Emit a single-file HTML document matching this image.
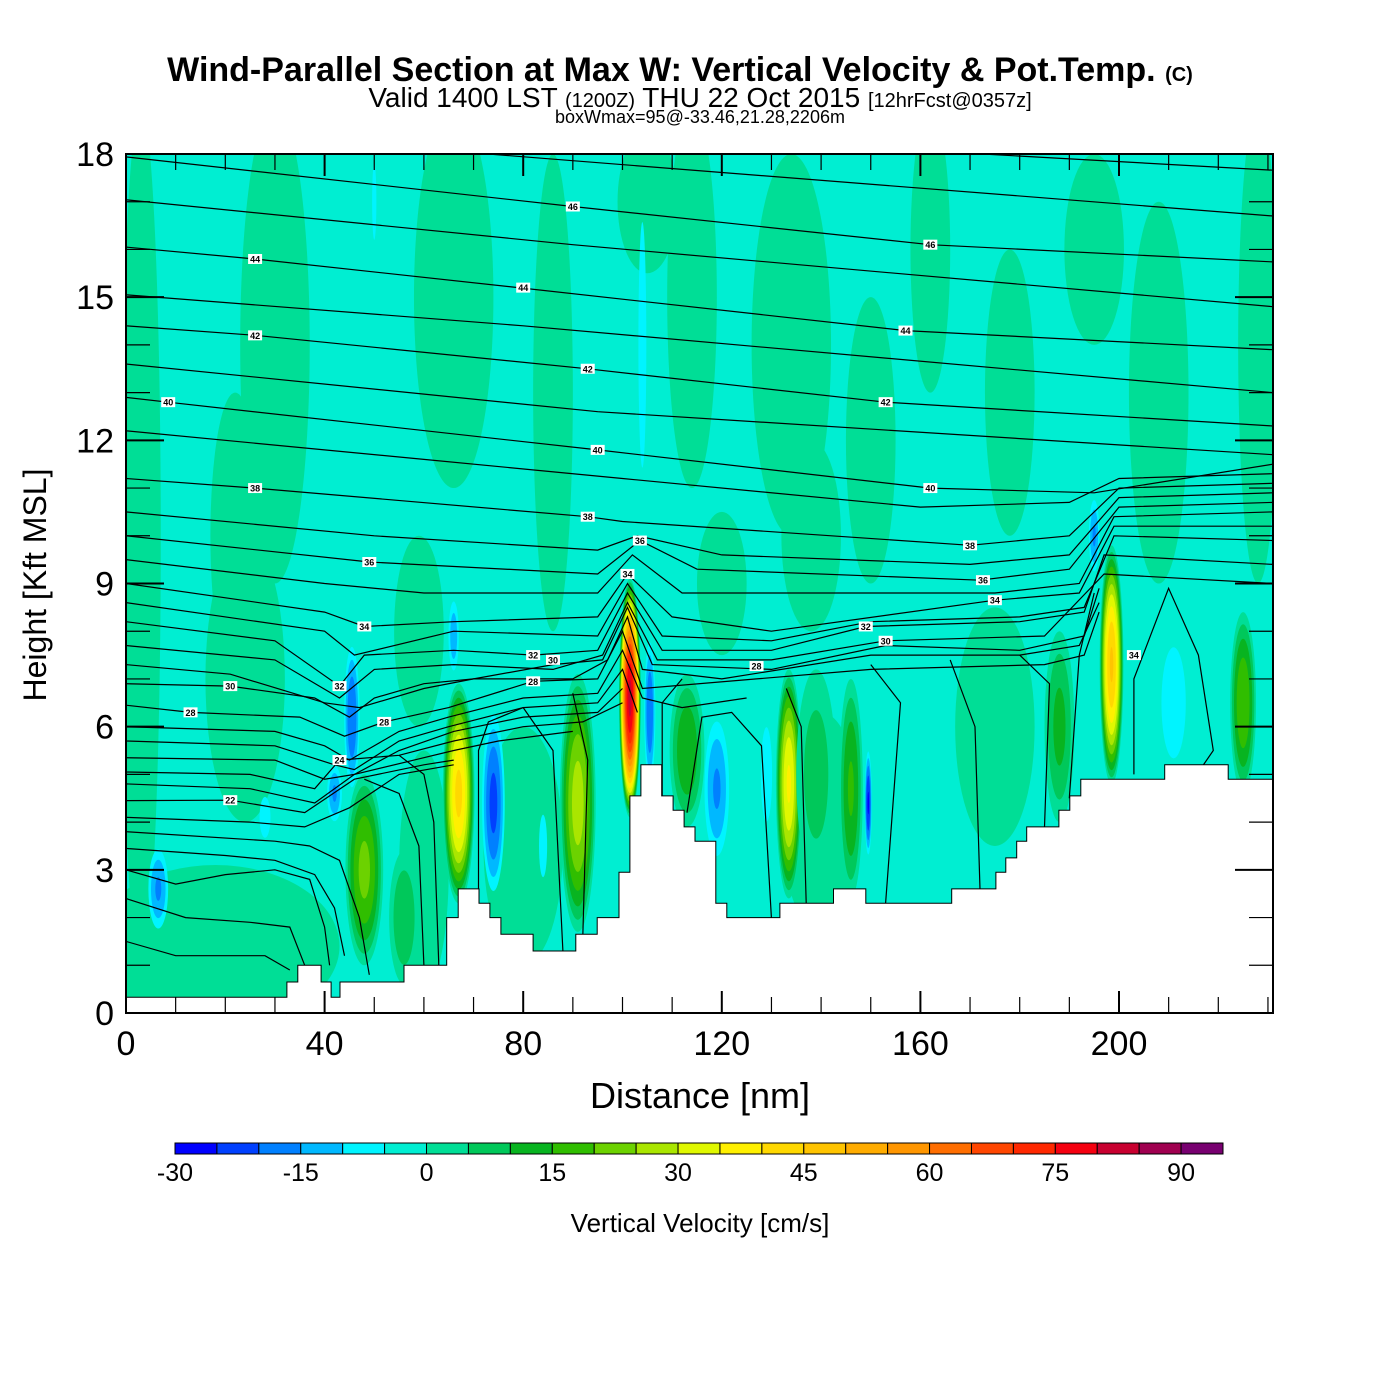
<!DOCTYPE html>
<html><head><meta charset="utf-8"><style>
html,body{margin:0;padding:0;background:#fff;}
svg{display:block;font-family:"Liberation Sans",sans-serif;}
</style></head><body>
<svg id="chart" width="1400" height="1400" viewBox="0 0 1400 1400" xmlns="http://www.w3.org/2000/svg">
<rect x="0" y="0" width="1400" height="1400" fill="#fff"/>
<text x="680" y="81" text-anchor="middle" font-size="34" font-weight="bold">Wind-Parallel Section at Max W: Vertical Velocity &amp; Pot.Temp. <tspan font-size="20">(C)</tspan></text>
<text x="700" y="107" text-anchor="middle" font-size="28">Valid 1400 LST <tspan font-size="20">(1200Z)</tspan> THU 22 Oct 2015 <tspan font-size="20">[12hrFcst@0357z]</tspan></text>
<text x="700" y="123" text-anchor="middle" font-size="18">boxWmax=95@-33.46,21.28,2206m</text>
<defs><clipPath id="plotclip"><rect x="126" y="154" width="1147" height="859"/></clipPath></defs>
<g id="plot" clip-path="url(#plotclip)"></g>
<g id="axes"></g>
<g id="cbar"></g>
<text x="700" y="1108" text-anchor="middle" font-size="36">Distance [nm]</text>
<text transform="translate(46,585) rotate(-90)" text-anchor="middle" font-size="32">Height [Kft MSL]</text>
<text x="700" y="1232" text-anchor="middle" font-size="26">Vertical Velocity [cm/s]</text>
</svg>
<script>
// ---- data ----
const xTicks = [0,40,80,120,160,200];
const yTicks = [0,3,6,9,12,15,18];
const cbarLabels = [-30,-15,0,15,30,45,60,75,90];
const cbarColors = ["#0000FF","#0040FF","#0080FF","#00B8FF","#00F4FF","#00EED2","#00DE96","#00C85A","#08B420","#30BE00","#6CD200","#AAE600","#E0F800","#FFF000","#FFD800","#FFC400","#FFAC00","#FF9600","#FF6E00","#FF4600","#FF2800","#F50010","#C80030","#A00050","#780070"];
// terrain steps: [start nm, height kft]
const terrainSteps = [[0,0.33],[32.4,0.65],[34.6,1.0],[39.3,0.65],[41.3,0.33],[43.1,0.65],[56,1.0],[64.6,2.0],[66.9,2.6],[71.1,2.3],[73.3,2.0],[75.5,1.65],[82,1.3],[90.6,1.65],[94.9,2.0],[99.3,2.95],[101.5,4.55],[103.7,5.2],[107.9,4.55],[110.2,4.25],[112.4,3.9],[114.6,3.6],[118.8,2.3],[121,2.0],[131.7,2.3],[142.5,2.6],[149,2.3],[166.3,2.6],[175.2,2.95],[177.2,3.25],[179.4,3.6],[181.4,3.9],[187.9,4.25],[190.1,4.55],[192.3,4.9],[209.2,5.2],[222,4.9],[231.5,4.9]];
// background patches and cells: [x nm, center kft, half-width nm, half-height kft, peak cm/s]
const patches = [[3,10,4,9,3],[30,14,7,5,3],[22,10,5,3,3],[66,15,8,4,3],[86,13,4,5,3],[114,15,5,4,3],[134,14,8,4,3],[150,12,5,3,3],[162,16,4,3,3],[178,13,5,3,3],[208,13,6,4,3],[228,14,4,5,3],[18,1.4,25,1.7,3],[24,7,8,3,3],[59,8,5,2,3],[120,9,5,1.5,3],[175,6,8,2.5,3],[138,10,6,2,3],[80,3.5,8,2.5,3],[140,4,8,2.3,3],[60,3,5,2.5,3],[105,17,6,1.5,3],[195,16,6,2,3]];
const cells = [[101.5,6.6,2.2,2.5,82],[67,4.6,3.2,2.3,42],[198.5,7.3,2.4,2.5,46],[91,4.4,3.6,2.7,28],[48,3.0,3.8,2.0,22],[133.5,4.8,2.6,2.4,36],[146,4.7,2.4,2.3,16],[113,5.5,3.5,1.6,15],[225,6.5,2.6,1.9,20],[139,5,4,2.2,8],[188,6,3,2,12],[56,2,3,1.4,10],
 [74,4.4,2.6,2.1,-22],[45.5,6.2,1.8,1.7,-20],[42,4.6,1.8,0.7,-16],[105.5,6.3,1.3,1.7,-20],[119,4.7,3,1.7,-16],[149.5,4.4,0.8,1.2,-26],[6.5,2.6,2.4,1.0,-16],[66,7.9,1.3,0.9,-14],[211,6.5,4,1.9,-8],[129,5,1.6,1.4,-10],[195,10,1.3,0.9,-16],[104,14,1.3,4.2,-8],[50,17,0.7,1.3,-8],[28,4.1,1.8,0.7,-8],[84,3.5,2,1.6,-6]];
// potential temperature contours: [nm, kft] points
const thetaLines = [
 [[0,19],[231,17.66]],
 [[0,18.6],[231,16.7]],
 [[0,17.94],[90,16.9],[162,16.1],[231,15.74]],
 [[0,17.04],[90,16.1],[231,14.8]],
 [[0,16.05],[26,15.8],[79,15.2],[157,14.3],[231,13.9]],
 [[0,15.05],[80,14.4],[231,13.0]],
 [[0,14.4],[26,14.2],[93,13.5],[153,12.8],[231,12.3]],
 [[0,13.6],[95,12.6],[231,11.7]],
 [[0,12.9],[8.5,12.8],[95,11.8],[162,11.0],[195,10.9],[231,11.5]],
 [[0,12.2],[60,11.6],[100,11.2],[160,10.6],[190,10.7],[200,11.2],[231,11.3]],
 [[0,11.2],[26,11.0],[93,10.4],[100,10.3],[170,9.8],[190,10.0],[200,11.0],[231,11.1]],
 [[0,10.5],[50,10.0],[95,9.7],[103,10.0],[120,9.6],[170,9.4],[190,9.6],[200,10.8],[231,10.9]],
 [[0,10.0],[49,9.45],[95,9.2],[103.5,9.9],[115,9.3],[172,9.07],[190,9.3],[200,10.6],[231,10.7]],
 [[0,9.5],[40,9.0],[60,8.8],[95,8.8],[102,9.6],[112,8.8],[175,8.8],[192,9.0],[199,10.4],[231,10.5]],
 [[0,9.0],[40,8.4],[48,8.1],[66,8.2],[95,8.3],[101,9.2],[110,8.3],[130,8.0],[175,8.65],[192,8.8],[199,10.2],[231,10.2]],
 [[0,8.6],[40,8.0],[46,7.5],[66,8.0],[95,7.9],[101,9.0],[108,7.9],[130,7.8],[150,8.2],[180,8.3],[193,8.5],[199,10.0],[231,9.9]],
 [[0,8.2],[30,7.8],[43,6.85],[48,7.5],[66,7.6],[82,7.5],[95,7.6],[101,8.8],[108,7.6],[130,7.6],[149,8.1],[180,8.2],[193,8.4],[197,9.6],[231,9.4]],
 [[0,7.7],[30,7.4],[43,6.6],[50,7.2],[66,7.3],[86,7.2],[96,7.5],[101,8.6],[107,7.4],[130,7.4],[153,7.8],[185,7.9],[197,9.2],[231,9.0]],
 [[0,7.3],[21,7.1],[40,6.5],[47,6.4],[60,6.8],[70,7.0],[86,7.3],[96,7.4],[101,8.5],[106,7.3],[130,7.2],[153,7.7],[180,7.6],[193,7.9],[196,8.9]],
 [[0,6.9],[21,6.85],[38,6.6],[45,6.2],[50,6.6],[60,6.9],[70,7.0],[80,7.0],[90,7.0],[97,7.4],[101,8.3],[104,7.2],[120,7.0],[150,7.5],[180,7.5],[192,7.7],[196,8.6]],
 [[0,6.45],[13,6.3],[35,6.2],[44,5.8],[52,6.1],[65,6.4],[82,6.95],[95,7.0],[100,8.0],[104,6.8],[127,7.0],[150,7.2],[185,7.3],[193,7.5],[196,8.4]],
 [[0,6.0],[30,5.9],[40,5.6],[45,5.3],[55,5.9],[65,6.2],[80,6.6],[95,6.7],[100,7.6],[104,6.6],[112,6.4],[125,6.6]],
 [[0,5.7],[30,5.6],[42,5.2],[46,5.1],[55,5.7],[65,6.0],[80,6.4],[95,6.5],[100,7.2],[103,6.3]],
 [[0,5.35],[30,5.3],[40,4.9],[46,5.0],[55,5.5],[66,5.9],[80,6.2],[95,6.3],[100,6.8]],
 [[0,5.05],[25,5.0],[38,4.7],[43,5.3],[55,5.4],[66,5.7],[80,6.0],[92,6.1],[100,6.5]],
 [[0,4.8],[25,4.7],[38,4.4],[46,5.0],[58,5.3],[66,5.5],[75,5.7],[90,5.9]],
 [[0,4.45],[21,4.46],[36,4.2],[46,4.9],[60,5.2],[66,5.3]],
 [[0,4.1],[25,4.0],[36,3.9],[45,4.3],[55,5.0],[66,5.2]],
 [[0,3.8],[30,3.6],[37,3.5],[43,3.2],[47,2.0],[49,0.8]],
 [[0,3.45],[20,3.3],[30,3.2],[38,2.9],[42,2.2],[44,1.2]],
 [[0,3.0],[10,2.7],[20,2.9],[30,3.0],[37,2.8],[40,1.8],[41,1.0]],
 [[0,2.4],[12,2.0],[25,1.9],[33,1.8],[36,1.0]],
 [[0,1.5],[10,1.2],[28,1.2],[33,0.9]],
 [[60,1.0],[59,3.5],[55,4.6],[48,4.9]],
 [[63,1.0],[62,4.0],[60,5.0],[55,5.4]],
 [[71,2.6],[71,5.5],[73,6.1],[80,6.4],[86,5.5],[88,1.3]],
 [[92,1.6],[93,5.3],[90,6.7]],
 [[108,4.5],[108,6.5],[112,7.0]],
 [[113,4.2],[116,6.2],[122,6.3],[128,5.6],[130,2.0]],
 [[137,2.3],[136,6.0],[133,6.8]],
 [[153,2.3],[156,6.5],[150,7.3]],
 [[172,2.6],[171,6.0],[166,7.4]],
 [[185,3.9],[186,6.9],[180,7.5]],
 [[203,5.0],[203,7.0],[210,8.9],[216,7.5],[219,5.5],[215,4.9]],
 [[190,4.5],[192,7.5],[195,8.8]]
];
const labelValues = [46,46,44,44,44,42,42,42,40,40,40,38,38,38,36,36,36,34,34,34,34,32,32,32,30,30,30,28,28,28,28,24,22];
const labelX = [90,162,26,80,157,26,93,153,8.5,95,162,26,93,170,49,103.5,172.6,48,101,175,203,43,82,149,21,86,153,13,52,82,127,43,21];
const labelH = [16.9,16.1,15.8,15.2,14.3,14.2,13.5,12.8,12.8,11.8,11.0,11.0,10.4,9.8,9.45,9.9,9.07,8.1,9.2,8.65,7.5,6.85,7.5,8.1,6.85,7.4,7.8,6.3,6.1,6.95,7.27,5.3,4.46];

// ---- scales ----
const X0=126,X1=1273,Y0=1013,Y1=154;
const pxPerNm=(1119-126)/200, pxPerK=(Y0-Y1)/18;
function xs(nm){return X0+nm*pxPerNm;}
function ys(k){return Y0-k*pxPerK;}
function colorFor(v){let i=Math.floor((v+30)/5);i=Math.max(0,Math.min(24,i));return cbarColors[i];}
const NS="http://www.w3.org/2000/svg";
function mk(tag,attrs,parent){const e=document.createElementNS(NS,tag);for(const k in attrs)e.setAttribute(k,attrs[k]);parent.appendChild(e);return e;}
const plot=document.getElementById('plot'),axes=document.getElementById('axes'),cbar=document.getElementById('cbar');

const bg=mk('rect',{x:X0,y:Y1,width:X1-X0,height:Y0-Y1,fill:colorFor(-1)},plot);



function drawCell(c,name){
  const [cx,cy,rx,ry,p]=c;
  const g=mk('g',{},plot);
  
  
  if(p>0){
    for(let L=0;L<p;L+=5){const s=Math.sqrt(1-L/p);
      mk('ellipse',{cx:xs(cx),cy:ys(cy),rx:rx*pxPerNm*s,ry:ry*pxPerK*s,fill:colorFor(L+0.1)},g);}
  } else {
    for(let L=-5;L>p;L-=5){const s=Math.sqrt(1-L/p);
      mk('ellipse',{cx:xs(cx),cy:ys(cy),rx:rx*pxPerNm*s,ry:ry*pxPerK*s,fill:colorFor(L-0.1)},g);}
  }
}
patches.forEach(c=>drawCell(c,'weak-updraft-patch'));
cells.forEach(c=>drawCell(c,c[4]>0?'updraft-cell':'downdraft-cell'));

thetaLines.forEach(line=>{
  const d=line.map((p,i)=>(i?'L':'M')+xs(p[0]).toFixed(1)+','+ys(p[1]).toFixed(1)).join(' ');
  const e=mk('path',{d:d,fill:'none',stroke:'#000','stroke-width':1.2},plot);
  
  
});

let td='M'+xs(terrainSteps[0][0])+','+Y0;
terrainSteps.forEach((s,i)=>{const nx=i<terrainSteps.length-1?terrainSteps[i+1][0]:240;
  td+=' L'+xs(s[0]).toFixed(1)+','+ys(s[1]).toFixed(1)+' L'+xs(nx).toFixed(1)+','+ys(s[1]).toFixed(1);});
td+=' L'+xs(240)+','+Y0+' Z';
const terr=mk('path',{d:td,fill:'#fff',stroke:'#000','stroke-width':1},plot);



labelValues.forEach((v,i)=>{
  const g=mk('g',{},plot);
  
  
  mk('rect',{x:xs(labelX[i])-7,y:ys(labelH[i])-5,width:14,height:10,fill:'#fff'},g);
  const t=mk('text',{x:xs(labelX[i]),y:ys(labelH[i])+3.5,'text-anchor':'middle','font-size':9,'font-weight':'bold'},g);
  t.textContent=v;
});

const fr=mk('rect',{x:X0,y:Y1,width:X1-X0,height:Y0-Y1,fill:'none',stroke:'#000','stroke-width':2},axes);


for(let k=0;k<=18;k++){
  const L=(k%3===0)?38:24;
  mk('line',{x1:X0,x2:X0+L,y1:ys(k),y2:ys(k),stroke:'#000','stroke-width':k%3===0?2:1.2},axes);
  mk('line',{x1:X1,x2:X1-L,y1:ys(k),y2:ys(k),stroke:'#000','stroke-width':k%3===0?2:1.2},axes);
}
for(let n=0;n<=230;n+=10){
  const L=(n%40===0)?22:16;
  mk('line',{x1:xs(n),x2:xs(n),y1:Y0,y2:Y0-L,stroke:'#000','stroke-width':n%40===0?2:1.2},axes);
  mk('line',{x1:xs(n),x2:xs(n),y1:Y1,y2:Y1+L,stroke:'#000','stroke-width':n%40===0?2:1.2},axes);
}
yTicks.forEach(k=>{const t=mk('text',{x:114,y:ys(k)+12,'text-anchor':'end','font-size':34},axes);
  
  
  t.textContent=k;});
xTicks.forEach(n=>{const t=mk('text',{x:xs(n),y:1055,'text-anchor':'middle','font-size':34},axes);
  
  
  t.textContent=n;});

const cbX=175,cbW=(1223-175)/25;
cbarColors.forEach((c,i)=>{const r=mk('rect',{x:cbX+i*cbW,y:1143,width:cbW,height:11,fill:c,stroke:'#000','stroke-width':1},cbar);
  
  });
cbarLabels.forEach(v=>{const t=mk('text',{x:cbX+(v+30)/5*cbW,y:1181,'text-anchor':'middle','font-size':25},cbar);
  
  
  t.textContent=v;});
</script>
</body></html>
